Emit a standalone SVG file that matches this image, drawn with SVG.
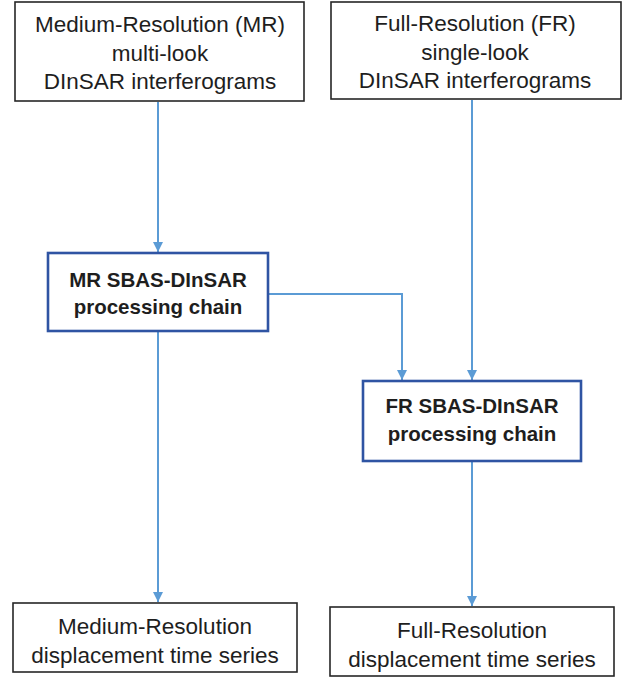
<svg xmlns="http://www.w3.org/2000/svg" width="626" height="677" viewBox="0 0 626 677">
  <style>
    .box { fill: #ffffff; stroke: #262626; stroke-width: 1.6; }
    .proc { fill: #ffffff; stroke: #2f54a3; stroke-width: 2.6; }
    .lbl { font-family: "Liberation Sans", Arial, sans-serif; font-size: 22.5px; fill: #1e1e1e; text-anchor: middle; }
    .bold { font-weight: bold; font-size: 20.5px; }
    .link { fill: none; stroke: #5b9bd5; stroke-width: 2; }
  </style>
  <defs>
    <marker id="arrow" viewBox="0 0 10 10" refX="10" refY="5" markerWidth="11" markerHeight="10" orient="auto" markerUnits="userSpaceOnUse">
      <path d="M0,0 L10,5 L0,10 z" fill="#5b9bd5"/>
    </marker>
  </defs>

  <g id="connectors">
    <path class="link" d="M158,102 V252" marker-end="url(#arrow)"/>
    <path class="link" d="M472,100 V380" marker-end="url(#arrow)"/>
    <path class="link" d="M268,294 H402 V380" marker-end="url(#arrow)"/>
    <path class="link" d="M158,332 V602" marker-end="url(#arrow)"/>
    <path class="link" d="M472,462 V606" marker-end="url(#arrow)"/>
  </g>

  <g id="mr-input">
    <rect class="box" x="15" y="2" width="289" height="99"/>
    <text class="lbl" x="160" y="32">Medium-Resolution (MR)</text>
    <text class="lbl" x="160" y="61">multi-look</text>
    <text class="lbl" x="160" y="89">DInSAR interferograms</text>
  </g>

  <g id="fr-input">
    <rect class="box" x="331" y="2" width="290" height="97"/>
    <text class="lbl" x="475" y="31">Full-Resolution (FR)</text>
    <text class="lbl" x="475" y="60">single-look</text>
    <text class="lbl" x="475" y="88">DInSAR interferograms</text>
  </g>

  <g id="mr-chain">
    <rect class="proc" x="48" y="253" width="220" height="78"/>
    <text class="lbl bold" x="158" y="287">MR SBAS-DInSAR</text>
    <text class="lbl bold" x="158" y="314">processing chain</text>
  </g>

  <g id="fr-chain">
    <rect class="proc" x="363" y="381" width="218" height="80"/>
    <text class="lbl bold" x="472" y="413">FR SBAS-DInSAR</text>
    <text class="lbl bold" x="472" y="441">processing chain</text>
  </g>

  <g id="mr-output">
    <rect class="box" x="13" y="603" width="284" height="69"/>
    <text class="lbl" x="155" y="634">Medium-Resolution</text>
    <text class="lbl" x="155" y="663">displacement time series</text>
  </g>

  <g id="fr-output">
    <rect class="box" x="330" y="607" width="284" height="69"/>
    <text class="lbl" x="472" y="638">Full-Resolution</text>
    <text class="lbl" x="472" y="667">displacement time series</text>
  </g>
</svg>
